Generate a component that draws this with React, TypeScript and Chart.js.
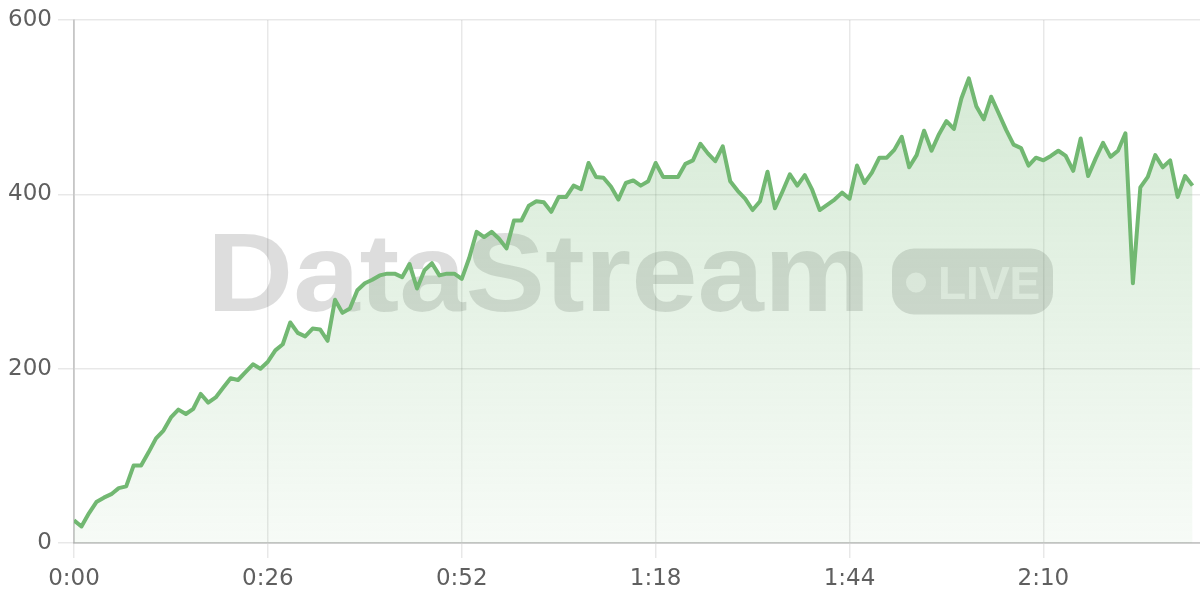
import React, { useEffect, useRef } from "react";
import { Chart, registerables } from "chart.js";

Chart.register(...registerables);

// seconds elapsed (one sample per second)
const seconds: number[] = Array.from({ length: 151 }, (_, i) => i);

const streamValues: number[] = [
  26, 19, 34, 47, 52, 56, 63, 65, 89, 89,
  104, 120, 129, 144, 153, 148, 154, 171, 161, 167,
  178, 189, 187, 196, 205, 200, 208, 221, 228, 253,
  241, 237, 246, 245, 232, 279, 264, 269, 290, 298,
  302, 307, 309, 309, 305, 320, 292, 313, 321, 307,
  309, 309, 303, 327, 357, 351, 357, 349, 338, 370,
  370, 387, 392, 391, 380, 397, 397, 410, 406, 436,
  420, 419, 409, 394, 413, 416, 410, 415, 436, 420,
  420, 420, 435, 439, 458, 447, 438, 455, 415, 404,
  395, 382, 392, 426, 384, 403, 423, 410, 422, 405,
  382, 388, 394, 402, 395, 433, 413, 425, 442, 442,
  451, 466, 431, 445, 473, 450, 469, 484, 475, 510,
  533, 501, 486, 512, 493, 474, 457, 453, 433, 442,
  439, 444, 450, 444, 427, 464, 421, 441, 459, 443,
  450, 470, 298, 408, 420, 445, 431, 439, 397, 421,
  410,
];

const yTicks: number[] = [0, 200, 400, 600];
const xTickStep = 26;
const xMax = 151;
const watermarkText = "DataStream";
const badgeText = "LIVE";

const LINE_COLOR = "#72b872";
const FONT = "'DejaVu Sans', sans-serif";

function fmtTime(s: number): string {
  const m = Math.floor(s / 60);
  const r = Math.round(s % 60);
  return `${m}:${r < 10 ? "0" : ""}${r}`;
}

const watermarkPlugin = {
  id: "watermark",
  beforeDatasetsDraw(chart: any) {
    const { ctx, chartArea } = chart;
    const cx = (chartArea.left + chartArea.right) / 2 - 7;
    const cy = (chartArea.top + chartArea.bottom) / 2;
    ctx.save();
    const mainFont = `bold 112px 'Liberation Sans', Arial, sans-serif`;
    const badgeFont = `bold 46px 'Liberation Sans', Arial, sans-serif`;
    ctx.font = mainFont;
    const mainW = ctx.measureText(watermarkText).width;
    const targetMainW = 663;
    const sx = targetMainW / mainW;
    const gap = 22;
    const badgeW = 161;
    const badgeH = 66;
    const total = targetMainW + gap + badgeW;
    const left = cx - total / 2;
    ctx.fillStyle = "rgba(0,0,0,0.135)";
    // main word
    ctx.save();
    ctx.translate(left, cy + 29);
    ctx.scale(sx, 1);
    ctx.textAlign = "left";
    ctx.textBaseline = "alphabetic";
    ctx.fillText(watermarkText, 0, 0);
    ctx.restore();
    // badge
    const bx = left + targetMainW + gap;
    const by = cy - badgeH / 2;
    const r = 22;
    ctx.beginPath();
    ctx.moveTo(bx + r, by);
    ctx.lineTo(bx + badgeW - r, by);
    ctx.arcTo(bx + badgeW, by, bx + badgeW, by + r, r);
    ctx.lineTo(bx + badgeW, by + badgeH - r);
    ctx.arcTo(bx + badgeW, by + badgeH, bx + badgeW - r, by + badgeH, r);
    ctx.lineTo(bx + r, by + badgeH);
    ctx.arcTo(bx, by + badgeH, bx, by + badgeH - r, r);
    ctx.lineTo(bx, by + r);
    ctx.arcTo(bx, by, bx + r, by, r);
    ctx.closePath();
    ctx.fill();
    ctx.fillStyle = "rgba(255,255,255,0.62)";
    ctx.beginPath();
    ctx.arc(bx + 24, cy + 1, 10, 0, Math.PI * 2);
    ctx.fill();
    ctx.font = badgeFont;
    ctx.textAlign = "left";
    ctx.textBaseline = "alphabetic";
    ctx.fillText(badgeText, bx + 46, cy + 17);
    ctx.restore();
  },
};

export default function App() {
  const canvasRef = useRef<HTMLCanvasElement | null>(null);

  useEffect(() => {
    const canvas = canvasRef.current;
    if (!canvas) return;
    const points = seconds.map((s, i) => ({ x: s, y: streamValues[i] }));
    const chart = new Chart(canvas, {
      type: "line",
      data: {
        datasets: [
          {
            data: points,
            borderColor: LINE_COLOR,
            borderWidth: 4,
            tension: 0,
            pointRadius: 0,
            borderJoinStyle: "round",
            fill: "origin",
            backgroundColor: (c: any) => {
              const area = c.chart.chartArea;
              if (!area) return "rgba(114,184,114,0.15)";
              const g = c.chart.ctx.createLinearGradient(0, area.top, 0, area.bottom);
              g.addColorStop(0, "rgba(114,184,114,0.32)");
              g.addColorStop(1, "rgba(114,184,114,0.06)");
              return g;
            },
          },
        ],
      },
      options: {
        responsive: false,
        animation: false,
        layout: { padding: { top: 20, right: 0, left: 0, bottom: 0 } },
        plugins: {
          legend: { display: false },
          tooltip: { enabled: false },
        },
        scales: {
          x: {
            type: "linear",
            min: 0,
            max: xMax,
            grid: {
              color: "rgba(0,0,0,0.09)",
              tickLength: 15,
              lineWidth: 1.5,
            },
            border: { color: "rgba(0,0,0,0.15)", width: 2 },
            ticks: {
              stepSize: xTickStep,
              includeBounds: false,
              autoSkip: false,
              maxRotation: 0,
              padding: 7,
              color: "#5f5f5f",
              font: { family: FONT, size: 23 },
              callback: (v: any) => fmtTime(Number(v)),
            },
            afterFit: (s: any) => {
              s.height = 57;
            },
          },
          y: {
            min: 0,
            max: 600,
            afterBuildTicks: (s: any) => {
              s.ticks = yTicks.map((v) => ({ value: v }));
            },
            grid: {
              color: "rgba(0,0,0,0.09)",
              tickLength: 16,
              lineWidth: 1.5,
            },
            border: { color: "rgba(0,0,0,0.15)", width: 2 },
            ticks: {
              padding: 6,
              color: "#5f5f5f",
              font: { family: FONT, size: 23 },
            },
            afterFit: (s: any) => {
              s.width = 74;
            },
          },
        },
      },
      plugins: [watermarkPlugin],
    } as any);
    return () => chart.destroy();
  }, []);

  return (
    <div style={{ position: "fixed", left: 0, top: 0, width: 1200, height: 600, background: "#fff" }}>
      <canvas ref={canvasRef} width={1200} height={600} style={{ width: 1200, height: 600 }} />
    </div>
  );
}
